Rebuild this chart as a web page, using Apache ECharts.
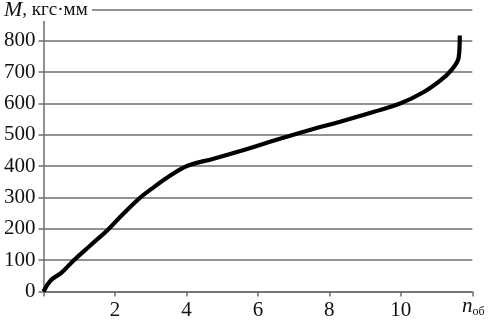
<!DOCTYPE html>
<html><head><meta charset="utf-8">
<script src="https://cdn.jsdelivr.net/npm/echarts@6/dist/echarts.min.js"></script>
<style>html,body{margin:0;padding:0;background:#fff}#c{width:493px;height:322px}</style>
</head><body><div id="c"></div>
<script>
const turns = [0,0.2,0.52,0.85,1.31,1.78,2.24,2.71,2.99,3.55,4.05,4.76,5.7,6.43,7.38,8.3,9.23,9.98,10.63,11.1,11.4,11.62,11.65];
const moment = [0,35,62,100,147,195,249,300,325,370,402,424,455,481,513,542,573,600,636,673,705,748,817];
const xTicks = [2,4,6,8,10];
const yTicks = [0,100,200,300,400,500,600,700,800];

const chart = echarts.init(document.getElementById('c'));
const font = 'Liberation Serif';
chart.setOption({
  animation:false,
  grid:{left:43.5,right:20.7,top:9.5,bottom:30.5},
  xAxis:{type:'value',min:0,max:12,interval:2,
    axisLine:{show:true,onZero:false,lineStyle:{color:'#6e6e6e',width:1.5}},
    axisTick:{show:true,length:5,lineStyle:{color:'#6e6e6e',width:1.5}},
    splitLine:{show:false},
    axisLabel:{margin:8,fontFamily:font,fontSize:21,color:'#111',
      formatter:v=>xTicks.includes(v)?String(v):''}},
  yAxis:{type:'value',min:0,max:900,interval:100,
    axisLine:{show:true,lineStyle:{color:'#6e6e6e',width:1.5}},
    axisTick:{show:true,length:5,lineStyle:{color:'#6e6e6e',width:1.5}},
    splitLine:{show:true,lineStyle:{color:'#6e6e6e',width:1.5}},
    axisLabel:{margin:8,fontFamily:font,fontSize:21,color:'#111',
      formatter:v=>yTicks.includes(v)?String(v):''}},
  series:[{type:'line',data:turns.map((x,i)=>[x,moment[i]]),smooth:0.4,symbol:'none',
    lineStyle:{color:'#000',width:4.2}}],
  graphic:[
    {type:'rect',left:0,top:0,shape:{width:92,height:21},style:{fill:'#fff'},z:100},
    {type:'text',left:4,top:-1,z:101,style:{
      text:'{i|M}{r|, кгс·мм}',
      rich:{i:{fontFamily:font,fontStyle:'italic',fontSize:22,fill:'#111'},
            r:{fontFamily:font,fontSize:19,fill:'#111'}}}},
    {type:'text',left:462,top:296,z:101,style:{
      text:'{i|n}{s|об}',
      rich:{i:{fontFamily:font,fontStyle:'italic',fontSize:21,fill:'#111'},
            s:{fontFamily:font,fontSize:12,fill:'#111',verticalAlign:'bottom',padding:[10,0,0,0]}}}}
  ]
});
</script></body></html>
